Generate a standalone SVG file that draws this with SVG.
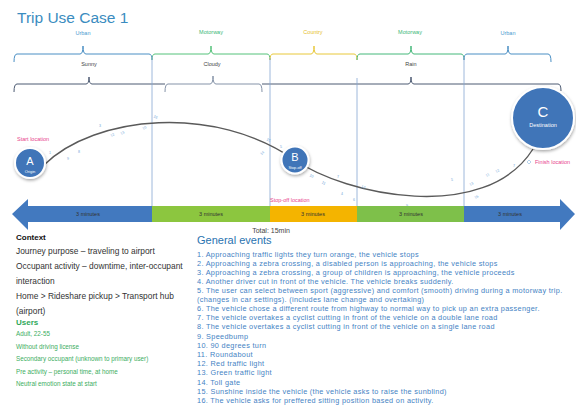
<svg xmlns="http://www.w3.org/2000/svg" width="576" height="408" viewBox="0 0 576 408">
  <defs>
    <filter id="shadow" x="-40%" y="-40%" width="180%" height="180%">
      <feDropShadow dx="0.5" dy="1.5" stdDeviation="1.5" flood-color="#000" flood-opacity="0.35"/>
    </filter>
  </defs>
  <style>
    text { font-family: "Liberation Sans", Arial, sans-serif; }
    .title { font-size: 15.5px; fill: #3a8cc0; }
    .road { font-size: 5.5px; text-anchor: middle; }
    .weather { font-size: 5.5px; fill: #444; text-anchor: middle; }
    .brace { fill: none; stroke-width: 1; }
    .divider { stroke: #86a6d2; stroke-width: 0.8; }
    .pink { font-size: 5.5px; fill: #e8428c; }
    .mark { font-size: 3.6px; fill: #6fa6d8; text-anchor: middle; }
    .route { fill: none; stroke: #5a5a5a; stroke-width: 1.4; }
    .node circle { fill: #3f74b8; stroke: #fff; stroke-width: 2; filter: url(#shadow); }
    .node text { fill: #fff; text-anchor: middle; }
    .seg { font-size: 5.5px; fill: #333; text-anchor: middle; }
    .total { font-size: 7px; fill: #444; text-anchor: middle; }
    .ctxhead { font-size: 8px; font-weight: bold; fill: #111; }
    .ctx { font-size: 8.4px; fill: #333; }
    .usershead { font-size: 8px; font-weight: bold; fill: #2ea85a; }
    .users { font-size: 6.3px; fill: #3cae62; }
    .evhead { font-size: 11px; fill: #2a73b0; }
    .ev { font-size: 7.3px; letter-spacing: 0.32px; fill: #4583c4; }
  </style>

  <text class="title" x="17" y="23">Trip Use Case 1</text>

  <!-- road type braces -->
  <g id="road-types">
    <text class="road" x="83" y="35" fill="#4a9ad0">Urban</text>
    <text class="road" x="211" y="34" fill="#3cb878">Motorway</text>
    <text class="road" x="313" y="34" fill="#e6c02e">Country</text>
    <text class="road" x="410" y="34" fill="#3cb878">Motorway</text>
    <text class="road" x="508" y="35" fill="#4a9ad0">Urban</text>
    <path class="brace" stroke="#4a8fc4" d="M14 62 Q14 54 17 54 H80 Q83 54 83 46 Q83 54 86 54 H149 Q152 54 152 60"/>
    <path class="brace" stroke="#55c27a" d="M152 60 Q152 54 155 54 H208 Q211 54 211 46 Q211 54 214 54 H267 Q270 54 270 60"/>
    <path class="brace" stroke="#e8c83a" d="M270 60 Q270 54 273 54 H311 Q314 54 314 46 Q314 54 317 54 H354 Q357 54 357 60"/>
    <path class="brace" stroke="#45b87a" d="M357 60 Q357 54 360 54 H408 Q411 54 411 46 Q411 54 414 54 H461 Q464 54 464 60"/>
    <path class="brace" stroke="#4a8fc4" d="M464 60 Q464 54 467 54 H505 Q508 54 508 46 Q508 54 511 54 H548 Q551 54 551 62"/>
  </g>

  <!-- weather braces -->
  <g id="weather">
    <text class="weather" x="89" y="66">Sunny</text>
    <text class="weather" x="212" y="66">Cloudy</text>
    <text class="weather" x="411" y="66">Rain</text>
    <path class="brace" stroke="#4c5a72" d="M14 92 Q14 84 17 84 H86 Q89 84 89 77 Q89 84 92 84 H165"/>
    <path class="brace" stroke="#8593a8" d="M165 92 Q165 84 168 84 H210 Q213 84 213 76 Q213 84 216 84 H259 Q262 84 262 92"/>
    <path class="brace" stroke="#4c5a72" d="M262 84 H408 Q411 84 411 77 Q411 84 414 84 H558 Q561 84 561 91"/>
  </g>

  <!-- section dividers -->
  <g id="dividers">
    <line class="divider" x1="152" y1="56" x2="152" y2="206"/>
    <line class="divider" x1="270" y1="58" x2="270" y2="206"/>
    <line class="divider" x1="357" y1="78" x2="357" y2="206"/>
    <line class="divider" x1="464" y1="56" x2="464" y2="206"/>
  </g>

  <!-- route connectors -->
  <g id="connectors">
    <path class="route" d="M44 165 C95 115 215 104 295 160"/>
    <path class="route" d="M295 160 C345 195 485 225 533 149"/>
  </g>

  <!-- event markers along the route -->
  <g id="markers">
    <text class="mark" x="50" y="154">1</text>
    <text class="mark" x="68" y="160">9</text>
    <text class="mark" x="79" y="153">8</text>
    <text class="mark" x="100" y="127">3</text>
    <text class="mark" x="113" y="136" transform="rotate(-30 113 136)">12</text>
    <text class="mark" x="123" y="134" transform="rotate(-30 123 134)">13</text>
    <text class="mark" x="145" y="129" transform="rotate(-30 145 129)">10</text>
    <text class="mark" x="155" y="118" transform="rotate(30 155 118)">16</text>
    <text class="mark" x="268" y="141" transform="rotate(30 268 141)">15</text>
    <text class="mark" x="263" y="154" transform="rotate(-40 263 154)">14</text>
    <text class="mark" x="281" y="148">5</text>
    <text class="mark" x="311" y="177" transform="rotate(30 311 177)">10</text>
    <text class="mark" x="323" y="184" transform="rotate(30 323 184)">11</text>
    <text class="mark" x="338" y="178">7</text>
    <text class="mark" x="342" y="195">4</text>
    <text class="mark" x="354" y="201">6</text>
    <text class="mark" x="363" y="188" transform="rotate(20 363 188)">13</text>
    <text class="mark" x="407" y="207">9</text>
    <text class="mark" x="452" y="181">5</text>
    <text class="mark" x="472" y="185" transform="rotate(-30 472 185)">13</text>
    <text class="mark" x="477" y="198" transform="rotate(-30 477 198)">16</text>
    <text class="mark" x="488" y="176" transform="rotate(-30 488 176)">11</text>
    <text class="mark" x="498" y="172" transform="rotate(-30 498 172)">12</text>
    <text class="mark" x="514" y="167">7</text>
    <path d="M529 160 L531 162 L529 164 L527 162 Z" fill="none" stroke="#6fa6d8" stroke-width="0.5"/>
  </g>

  <text class="pink" x="17" y="141">Start location</text>
  <text class="pink" x="270" y="202">Stop-off location</text>
  <text class="pink" x="535" y="164">Finish location</text>

  <!-- locations -->
  <g id="node-a" class="node">
    <circle cx="30" cy="163" r="15"/>
    <text x="30" y="165" font-size="11">A</text>
    <text x="30" y="173" font-size="4">Origin</text>
  </g>
  <g id="node-b" class="node">
    <circle cx="295" cy="160" r="13.5"/>
    <text x="295" y="161" font-size="11">B</text>
    <text x="295" y="169" font-size="3.8">Stop-off</text>
  </g>
  <g id="node-c" class="node">
    <circle cx="543" cy="118" r="31"/>
    <text x="543" y="117" font-size="15">C</text>
    <text x="543" y="127" font-size="5.5">Destination</text>
  </g>

  <!-- timeline bar -->
  <g id="timeline">
    <polygon fill="#4279bf" points="12,214 28,199 28,206 152,206 152,222 28,222 28,230"/>
    <rect x="152" y="206" width="118" height="16" fill="#8cc63f"/>
    <rect x="270" y="206" width="87" height="16" fill="#f4b400"/>
    <rect x="357" y="206" width="107" height="16" fill="#7ec04a"/>
    <polygon fill="#4279bf" points="464,206 560,206 560,199 575,214 560,230 560,222 464,222"/>
    <text class="seg" x="88" y="216">3 minutes</text>
    <text class="seg" x="211" y="216">3 minutes</text>
    <text class="seg" x="313" y="216">3 minutes</text>
    <text class="seg" x="411" y="216">3 minutes</text>
    <text class="seg" x="510" y="216">3 minutes</text>
    <text class="total" x="271" y="233">Total: 15min</text>
  </g>

  <!-- context -->
  <g id="context">
    <text class="ctxhead" x="16" y="240">Context</text>
    <text class="ctx" x="16" y="254">Journey purpose – traveling to airport</text>
    <text class="ctx" x="16" y="269">Occupant activity – downtime,  inter-occupant</text>
    <text class="ctx" x="16" y="284">interaction</text>
    <text class="ctx" x="16" y="299">Home &gt; Rideshare pickup &gt; Transport hub</text>
    <text class="ctx" x="16" y="314">(airport)</text>
    <text class="usershead" x="16" y="325">Users</text>
    <text class="users" x="16" y="336">Adult, 22-55</text>
    <text class="users" x="16" y="349">Without driving license</text>
    <text class="users" x="16" y="361">Secondary occupant (unknown to primary user)</text>
    <text class="users" x="16" y="374">Pre activity  – personal time, at home</text>
    <text class="users" x="16" y="386">Neutral emotion state at start</text>
  </g>

  <!-- general events -->
  <g id="events">
    <text class="evhead" x="197" y="244">General events</text>
    <text class="ev" x="197" y="257">1. Approaching  traffic lights they turn orange,  the vehicle stops</text>
    <text class="ev" x="197" y="266">2. Approaching  a zebra crossing, a disabled person is approaching,  the vehicle stops</text>
    <text class="ev" x="197" y="275">3. Approaching  a zebra crossing, a group of children  is approaching,  the vehicle proceeds</text>
    <text class="ev" x="197" y="284">4. Another driver cut in front of the vehicle. The vehicle breaks suddenly.</text>
    <text class="ev" x="197" y="293">5. The user can select between  sport (aggressive)  and comfort (smooth) driving  during  a motorway trip.</text>
    <text class="ev" x="197" y="302">(changes in car settings). (includes lane change and overtaking)</text>
    <text class="ev" x="197" y="311">6. The vehicle chose a different route from highway to normal way to pick up an extra passenger.</text>
    <text class="ev" x="197" y="320">7. The vehicle overtakes a cyclist cutting in front of the vehicle on a double lane road</text>
    <text class="ev" x="197" y="329">8. The vehicle overtakes a cyclist cutting in front of the vehicle on a single lane road</text>
    <text class="ev" x="197" y="339">9. Speedbump</text>
    <text class="ev" x="197" y="348">10. 90 degrees  turn</text>
    <text class="ev" x="197" y="357">11. Roundabout</text>
    <text class="ev" x="197" y="366">12. Red traffic light</text>
    <text class="ev" x="197" y="375">13. Green traffic light</text>
    <text class="ev" x="197" y="385">14. Toll gate</text>
    <text class="ev" x="197" y="394">15. Sunshine  inside the vehicle  (the vehicle asks to raise the sunblind)</text>
    <text class="ev" x="197" y="403">16. The vehicle asks for preffered sitting position based on activity.</text>
  </g>
</svg>
